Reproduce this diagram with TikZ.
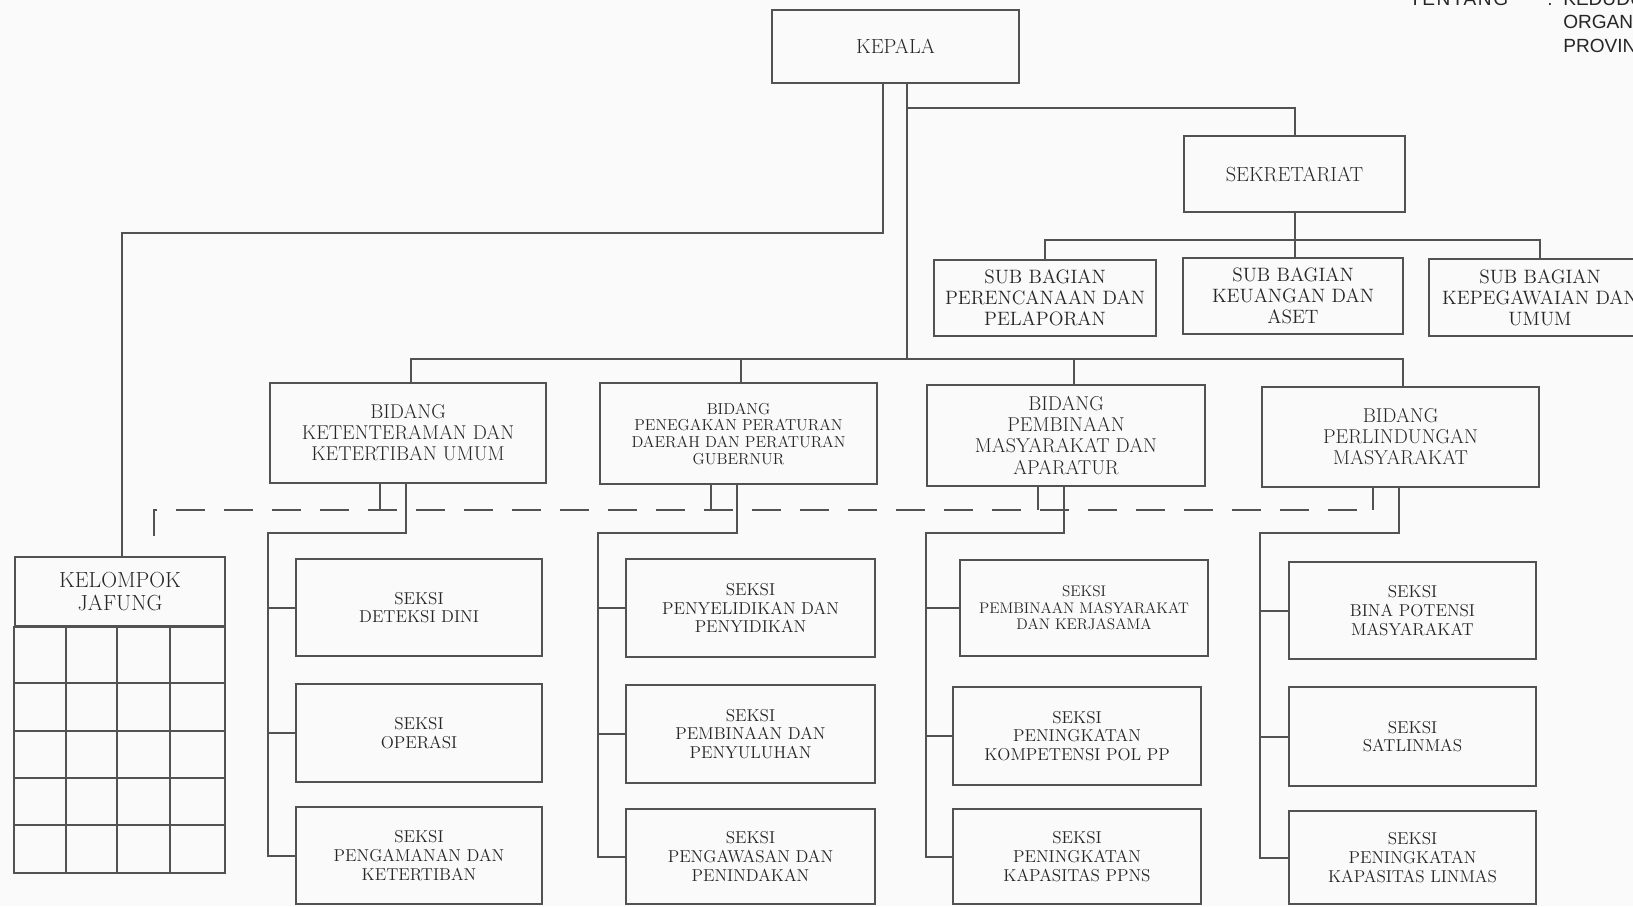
\documentclass[tikz,border=0pt]{standalone}
\usepackage{fontspec}
\newfontfamily\headfont{Liberation Sans}
\newfontfamily\headfontwide[LetterSpace=8]{Liberation Sans}
% box from (x1,y1) to (x2,y2) in pixel units, named #6
\newcommand\orgbox[7][]{%
  \node[orgbox,#1,minimum width={(#4-#2)*0.75pt},minimum height={(#5-#3)*0.75pt}]
    (#6) at ({(#2+#4)/2},{(#3+#5)/2}) {#7};}
\begin{document}
\begin{tikzpicture}[x=0.75pt,y=-0.75pt,
  link/.style={draw=black!68,line width=1.5pt},
  dashlink/.style={link,dash pattern=on 22pt off 14pt},
  orgbox/.style={draw=black!68,line width=1.5pt,align=center,text=black!85,inner sep=1pt},
  top/.style={font=\fontsize{15.3}{16}\selectfont},
  big/.style={font=\fontsize{14.5}{15.8}\selectfont},
  bidang/.style={font=\fontsize{15}{15.8}\selectfont},
  mid/.style={font=\fontsize{11.9}{12.5}\selectfont},
  midb/.style={font=\fontsize{11.5}{12.5}\selectfont},
  small/.style={font=\fontsize{12.9}{14}\selectfont},
  jaf/.style={font=\fontsize{16.4}{17.2}\selectfont},
  hdr/.style={font=\headfont\fontsize{14.3}{16}\selectfont,text=black!85,inner sep=0pt,anchor=base west},
]
\useasboundingbox (0,0) rectangle (1633,906);
\fill[black!2] (0,0) rectangle (1633,906);
\clip (0,0) rectangle (1633,906);

% heading at the top right
\node[hdr,font=\headfontwide\fontsize{14.3}{16}\selectfont] (tt) at (1409,6) {TENTANG};
\node[hdr] (tc) at (1547,6) {:};
\node[hdr] (t1) at (1563,6) {KEDUDUKAN};
\node[hdr] (t2) at (1563,29) {ORGANISASI};
\node[hdr] (t3) at (1563,53) {PROVINSI};

% top level
\orgbox[top]{772}{10}{1019}{83}{k}{KEPALA}
\orgbox[top]{1184}{136}{1405}{212}{sek}{SEKRETARIAT}
\orgbox[big]{934}{260}{1156}{336}{sb1}{SUB BAGIAN\\PERENCANAAN DAN\\PELAPORAN}
\orgbox[big]{1183}{258}{1403}{334}{sb2}{SUB BAGIAN\\KEUANGAN DAN\\ASET}
\orgbox[big]{1429}{259}{1651}{336}{sb3}{SUB BAGIAN\\KEPEGAWAIAN DAN\\UMUM}

% bidang
\orgbox[bidang]{270}{383}{546}{483}{b1}{BIDANG\\KETENTERAMAN DAN\\KETERTIBAN UMUM}
\orgbox[mid]{600}{383}{877}{484}{b2}{BIDANG\\PENEGAKAN PERATURAN\\DAERAH DAN PERATURAN\\GUBERNUR}
\orgbox[bidang]{927}{385}{1205}{486}{b3}{BIDANG\\PEMBINAAN\\MASYARAKAT DAN\\APARATUR}
\orgbox[bidang]{1262}{387}{1539}{487}{b4}{BIDANG\\PERLINDUNGAN\\MASYARAKAT}

% seksi
\orgbox[small]{296}{559}{542}{656}{s11}{SEKSI\\DETEKSI DINI}
\orgbox[small]{296}{684}{542}{782}{s12}{SEKSI\\OPERASI}
\orgbox[small]{296}{807}{542}{904}{s13}{SEKSI\\PENGAMANAN DAN\\KETERTIBAN}
\orgbox[small]{626}{559}{875}{657}{s21}{SEKSI\\PENYELIDIKAN DAN\\PENYIDIKAN}
\orgbox[small]{626}{685}{875}{783}{s22}{SEKSI\\PEMBINAAN DAN\\PENYULUHAN}
\orgbox[small]{626}{809}{875}{904}{s23}{SEKSI\\PENGAWASAN DAN\\PENINDAKAN}
\orgbox[midb]{960}{560}{1208}{656}{s31}{SEKSI\\PEMBINAAN MASYARAKAT\\DAN KERJASAMA}
\orgbox[small]{953}{687}{1201}{785}{s32}{SEKSI\\PENINGKATAN\\KOMPETENSI POL PP}
\orgbox[small]{953}{809}{1201}{904}{s33}{SEKSI\\PENINGKATAN\\KAPASITAS PPNS}
\orgbox[small]{1289}{562}{1536}{659}{s41}{SEKSI\\BINA POTENSI\\MASYARAKAT}
\orgbox[small]{1289}{687}{1536}{786}{s42}{SEKSI\\SATLINMAS}
\orgbox[small]{1289}{811}{1536}{904}{s43}{SEKSI\\PENINGKATAN\\KAPASITAS LINMAS}

% kelompok jabatan fungsional with its grid
\orgbox[jaf]{15}{557}{225}{626}{jf}{KELOMPOK\\JAFUNG}
\draw[link] (jf.south west) rectangle (225,873);
\foreach \yy in {683,731,778,825} \draw[link] (15,\yy) -- (225,\yy);
\foreach \xx in {66,117,170} \draw[link] (\xx,626) -- (\xx,873);

% kepala to kelompok jafung
\coordinate (jbend) at (883,233);
\draw[link] (k.south -| jbend) -- (jbend) -| ([xshift=1.5pt]jf.north);

% kepala to the bidang bus
\coordinate (bbus) at (907,359);
\draw[link] (k.south -| bbus) -- (bbus);
\draw[link] ([xshift=2pt]b1.north) |- (bbus);
\draw[link] ([xshift=2pt]b2.north) |- (bbus);
\draw[link] ([xshift=6pt]b3.north) |- (bbus);
\draw[link] ([xshift=2pt]b4.north) |- (bbus);

% kepala to sekretariat and its sub bagian
\coordinate (sbend) at (907,108);
\draw[link] (sbend) -| (sek.north);
\coordinate (sbus) at (1295,240);
\draw[link] (sek.south) -- (sek.south |- sb2.north);
\draw[link] (sb1.north) |- (sbus) -| (sb3.north);

% coordination line with the jafung group
\coordinate (dstart) at (154,536);
\coordinate (dturn) at (154,510);
\draw[dashlink] (dstart) -- (dturn) -- ([xshift=-21pt]b4.south |- dturn);
\foreach \b in {b1,b2,b3,b4}
  \draw[link] ([xshift=-21pt]\b.south) -- ([xshift=-21pt]\b.south |- dturn);

% bidang to seksi
\coordinate (c1) at (268,533);
\coordinate (c2) at (598,533);
\coordinate (c3) at (926,533);
\coordinate (c4) at (1260,533);
\foreach \b/\c/\s in {b1/c1/s1,b2/c2/s2,b3/c3/s3,b4/c4/s4}{
  \draw[link] ([xshift=-1.5pt]\b.south) |- (\c) |- (\s3.west);
  \draw[link] (\c |- \s1.west) -- (\s1.west);
  \draw[link] (\c |- \s2.west) -- (\s2.west);
}
\end{tikzpicture}
\end{document}
